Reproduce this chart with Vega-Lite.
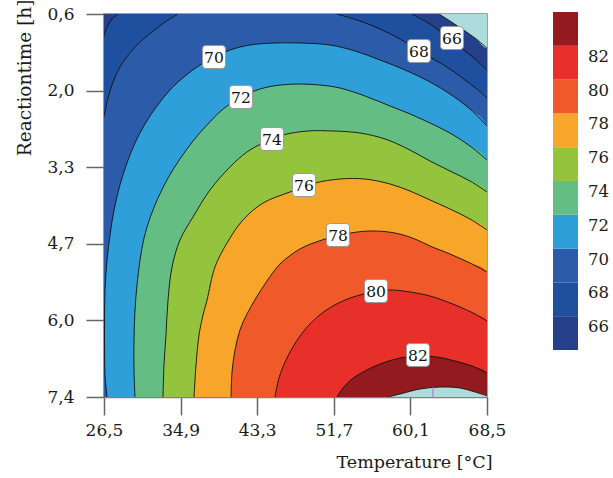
{
"$schema": "https://vega.github.io/schema/vega-lite/v6.json",
"width": 383, "height": 383,
"autosize": {"type": "none"},
"padding": {"left": 104, "top": 14, "right": 126, "bottom": 81},
"config": {"view": {"stroke": "#808080", "strokeWidth": 1.5}, "font": "DejaVu Serif"},
"datasets": {
"regions": [
{"r":65,"i":0,"T":26.5,"h":0.6},{"r":65,"i":1,"T":68.5,"h":0.6},{"r":65,"i":2,"T":68.5,"h":7.4},{"r":65,"i":3,"T":26.5,"h":7.4},
{"r":67,"i":0,"T":26.5,"h":0.991,"s":"66a"},{"r":67,"i":1,"T":26.83,"h":0.831,"s":"66a"},{"r":67,"i":2,"T":27.38,"h":0.689,"s":"66a"},{"r":67,"i":3,"T":28.04,"h":0.6,"s":"66a"},
{"r":67,"i":4,"T":60.28,"h":0.6,"s":"66b"},{"r":67,"i":5,"T":62.25,"h":0.778,"s":"66b"},{"r":67,"i":6,"T":63.89,"h":0.973,"s":"66b"},{"r":67,"i":7,"T":65.54,"h":1.186,"s":"66b"},{"r":67,"i":8,"T":67.07,"h":1.381,"s":"66b"},{"r":67,"i":9,"T":68.5,"h":1.594,"s":"66b"},
{"r":67,"i":10,"T":68.5,"h":7.4},{"r":67,"i":11,"T":26.5,"h":7.4},
{"r":69,"i":0,"T":26.5,"h":2.429,"s":"68a"},{"r":69,"i":1,"T":26.94,"h":2.091,"s":"68a"},{"r":69,"i":2,"T":27.49,"h":1.807,"s":"68a"},{"r":69,"i":3,"T":28.25,"h":1.541,"s":"68a"},{"r":69,"i":4,"T":29.24,"h":1.31,"s":"68a"},{"r":69,"i":5,"T":30.45,"h":1.097,"s":"68a"},{"r":69,"i":6,"T":31.76,"h":0.92,"s":"68a"},{"r":69,"i":7,"T":33.19,"h":0.742,"s":"68a"},{"r":69,"i":8,"T":34.61,"h":0.6,"s":"68a"},
{"r":69,"i":9,"T":52.05,"h":0.6,"s":"68b"},{"r":69,"i":10,"T":54.57,"h":0.724,"s":"68b"},{"r":69,"i":11,"T":56.77,"h":0.866,"s":"68b"},{"r":69,"i":12,"T":58.96,"h":1.044,"s":"68b"},{"r":69,"i":13,"T":60.93,"h":1.239,"s":"68b"},{"r":69,"i":14,"T":62.8,"h":1.417,"s":"68b"},{"r":69,"i":15,"T":64.44,"h":1.576,"s":"68b"},{"r":69,"i":16,"T":66.09,"h":1.772,"s":"68b"},{"r":69,"i":17,"T":67.4,"h":1.932,"s":"68b"},{"r":69,"i":18,"T":68.5,"h":2.091,"s":"68b"},
{"r":69,"i":19,"T":68.5,"h":7.4},{"r":69,"i":20,"T":26.5,"h":7.4},
{"r":71,"i":0,"T":26.83,"h":7.4,"s":"70"},{"r":71,"i":1,"T":26.61,"h":7.009,"s":"70"},{"r":71,"i":2,"T":26.56,"h":6.566,"s":"70"},{"r":71,"i":3,"T":26.56,"h":6.033,"s":"70"},{"r":71,"i":4,"T":26.61,"h":5.5,"s":"70"},{"r":71,"i":5,"T":26.83,"h":4.968,"s":"70"},{"r":71,"i":6,"T":27.16,"h":4.524,"s":"70"},{"r":71,"i":7,"T":27.6,"h":4.08,"s":"70"},{"r":71,"i":8,"T":28.25,"h":3.636,"s":"70"},{"r":71,"i":9,"T":29.02,"h":3.245,"s":"70"},{"r":71,"i":10,"T":29.9,"h":2.89,"s":"70"},{"r":71,"i":11,"T":30.99,"h":2.553,"s":"70"},{"r":71,"i":12,"T":32.31,"h":2.233,"s":"70"},{"r":71,"i":13,"T":33.74,"h":1.949,"s":"70"},{"r":71,"i":14,"T":35.38,"h":1.701,"s":"70"},{"r":71,"i":15,"T":37.03,"h":1.506,"s":"70"},{"r":71,"i":16,"T":38.56,"h":1.363,"s":"70"},{"r":71,"i":17,"T":40.32,"h":1.239,"s":"70"},{"r":71,"i":18,"T":42.51,"h":1.15,"s":"70"},{"r":71,"i":19,"T":45.25,"h":1.115,"s":"70"},{"r":71,"i":20,"T":47.99,"h":1.115,"s":"70"},{"r":71,"i":21,"T":51.28,"h":1.15,"s":"70"},{"r":71,"i":22,"T":54.02,"h":1.257,"s":"70"},{"r":71,"i":23,"T":56.77,"h":1.417,"s":"70"},{"r":71,"i":24,"T":59.51,"h":1.594,"s":"70"},{"r":71,"i":25,"T":62.25,"h":1.807,"s":"70"},{"r":71,"i":26,"T":64.44,"h":2.02,"s":"70"},{"r":71,"i":27,"T":66.64,"h":2.287,"s":"70"},{"r":71,"i":28,"T":68.5,"h":2.589,"s":"70"},{"r":71,"i":29,"T":68.5,"h":7.4},
{"r":73,"i":0,"T":29.9,"h":7.4,"s":"72"},{"r":73,"i":1,"T":29.79,"h":6.921,"s":"72"},{"r":73,"i":2,"T":29.79,"h":6.388,"s":"72"},{"r":73,"i":3,"T":29.9,"h":5.855,"s":"72"},{"r":73,"i":4,"T":30.12,"h":5.412,"s":"72"},{"r":73,"i":5,"T":30.45,"h":4.968,"s":"72"},{"r":73,"i":6,"T":30.89,"h":4.577,"s":"72"},{"r":73,"i":7,"T":31.54,"h":4.222,"s":"72"},{"r":73,"i":8,"T":32.42,"h":3.867,"s":"72"},{"r":73,"i":9,"T":33.52,"h":3.512,"s":"72"},{"r":73,"i":10,"T":34.83,"h":3.174,"s":"72"},{"r":73,"i":11,"T":36.26,"h":2.855,"s":"72"},{"r":73,"i":12,"T":37.8,"h":2.571,"s":"72"},{"r":73,"i":13,"T":39.44,"h":2.304,"s":"72"},{"r":73,"i":14,"T":41.52,"h":2.074,"s":"72"},{"r":73,"i":15,"T":43.61,"h":1.932,"s":"72"},{"r":73,"i":16,"T":45.8,"h":1.861,"s":"72"},{"r":73,"i":17,"T":47.99,"h":1.843,"s":"72"},{"r":73,"i":18,"T":50.19,"h":1.861,"s":"72"},{"r":73,"i":19,"T":52.38,"h":1.914,"s":"72"},{"r":73,"i":20,"T":55.12,"h":2.056,"s":"72"},{"r":73,"i":21,"T":57.86,"h":2.233,"s":"72"},{"r":73,"i":22,"T":60.06,"h":2.375,"s":"72"},{"r":73,"i":23,"T":62.25,"h":2.535,"s":"72"},{"r":73,"i":24,"T":64.44,"h":2.713,"s":"72"},{"r":73,"i":25,"T":66.64,"h":2.944,"s":"72"},{"r":73,"i":26,"T":68.5,"h":3.192,"s":"72"},{"r":73,"i":27,"T":68.5,"h":7.4},
{"r":75,"i":0,"T":32.97,"h":7.4,"s":"74"},{"r":75,"i":1,"T":33.08,"h":6.832,"s":"74"},{"r":75,"i":2,"T":33.3,"h":6.299,"s":"74"},{"r":75,"i":3,"T":33.52,"h":5.678,"s":"74"},{"r":75,"i":4,"T":33.96,"h":5.092,"s":"74"},{"r":75,"i":5,"T":34.83,"h":4.613,"s":"74"},{"r":75,"i":6,"T":36.26,"h":4.204,"s":"74"},{"r":75,"i":7,"T":38.12,"h":3.725,"s":"74"},{"r":75,"i":8,"T":40.32,"h":3.316,"s":"74"},{"r":75,"i":9,"T":42.18,"h":3.05,"s":"74"},{"r":75,"i":10,"T":43.94,"h":2.89,"s":"74"},{"r":75,"i":11,"T":46.13,"h":2.748,"s":"74"},{"r":75,"i":12,"T":48.87,"h":2.677,"s":"74"},{"r":75,"i":13,"T":51.61,"h":2.677,"s":"74"},{"r":75,"i":14,"T":54.57,"h":2.713,"s":"74"},{"r":75,"i":15,"T":57.31,"h":2.819,"s":"74"},{"r":75,"i":16,"T":59.84,"h":2.997,"s":"74"},{"r":75,"i":17,"T":62.25,"h":3.21,"s":"74"},{"r":75,"i":18,"T":64.44,"h":3.387,"s":"74"},{"r":75,"i":19,"T":66.64,"h":3.565,"s":"74"},{"r":75,"i":20,"T":68.5,"h":3.76,"s":"74"},{"r":75,"i":21,"T":68.5,"h":7.4},
{"r":77,"i":0,"T":36.37,"h":7.4,"s":"76"},{"r":77,"i":1,"T":36.59,"h":6.832,"s":"76"},{"r":77,"i":2,"T":36.92,"h":6.299,"s":"76"},{"r":77,"i":3,"T":37.36,"h":5.944,"s":"76"},{"r":77,"i":4,"T":37.8,"h":5.678,"s":"76"},{"r":77,"i":5,"T":38.67,"h":5.092,"s":"76"},{"r":77,"i":6,"T":39.99,"h":4.666,"s":"76"},{"r":77,"i":7,"T":41.74,"h":4.257,"s":"76"},{"r":77,"i":8,"T":43.94,"h":3.956,"s":"76"},{"r":77,"i":9,"T":46.9,"h":3.76,"s":"76"},{"r":77,"i":10,"T":49.64,"h":3.601,"s":"76"},{"r":77,"i":11,"T":52.38,"h":3.53,"s":"76"},{"r":77,"i":12,"T":55.12,"h":3.53,"s":"76"},{"r":77,"i":13,"T":57.86,"h":3.618,"s":"76"},{"r":77,"i":14,"T":60.06,"h":3.743,"s":"76"},{"r":77,"i":15,"T":62.25,"h":3.902,"s":"76"},{"r":77,"i":16,"T":64.44,"h":4.062,"s":"76"},{"r":77,"i":17,"T":66.64,"h":4.24,"s":"76"},{"r":77,"i":18,"T":68.5,"h":4.435,"s":"76"},{"r":77,"i":19,"T":68.5,"h":7.4},
{"r":79,"i":0,"T":40.43,"h":7.4,"s":"78"},{"r":79,"i":1,"T":40.54,"h":6.956,"s":"78"},{"r":79,"i":2,"T":40.87,"h":6.566,"s":"78"},{"r":79,"i":3,"T":41.41,"h":6.21,"s":"78"},{"r":79,"i":4,"T":42.18,"h":5.926,"s":"78"},{"r":79,"i":5,"T":43.17,"h":5.642,"s":"78"},{"r":79,"i":6,"T":44.37,"h":5.341,"s":"78"},{"r":79,"i":7,"T":45.8,"h":5.039,"s":"78"},{"r":79,"i":8,"T":47.99,"h":4.772,"s":"78"},{"r":79,"i":9,"T":50.41,"h":4.613,"s":"78"},{"r":79,"i":10,"T":52.93,"h":4.506,"s":"78"},{"r":79,"i":11,"T":55.67,"h":4.453,"s":"78"},{"r":79,"i":12,"T":58.41,"h":4.488,"s":"78"},{"r":79,"i":13,"T":60.6,"h":4.595,"s":"78"},{"r":79,"i":14,"T":62.25,"h":4.719,"s":"78"},{"r":79,"i":15,"T":64.44,"h":4.861,"s":"78"},{"r":79,"i":16,"T":66.64,"h":5.021,"s":"78"},{"r":79,"i":17,"T":68.5,"h":5.181,"s":"78"},{"r":79,"i":18,"T":68.5,"h":7.4},
{"r":81,"i":0,"T":45.25,"h":7.4,"s":"80"},{"r":81,"i":1,"T":45.69,"h":7.063,"s":"80"},{"r":81,"i":2,"T":46.46,"h":6.743,"s":"80"},{"r":81,"i":3,"T":47.55,"h":6.423,"s":"80"},{"r":81,"i":4,"T":48.98,"h":6.122,"s":"80"},{"r":81,"i":5,"T":50.74,"h":5.873,"s":"80"},{"r":81,"i":6,"T":52.93,"h":5.678,"s":"80"},{"r":81,"i":7,"T":55.45,"h":5.554,"s":"80"},{"r":81,"i":8,"T":57.86,"h":5.5,"s":"80"},{"r":81,"i":9,"T":60.06,"h":5.536,"s":"80"},{"r":81,"i":10,"T":62.25,"h":5.607,"s":"80"},{"r":81,"i":11,"T":63.89,"h":5.696,"s":"80"},{"r":81,"i":12,"T":65.54,"h":5.802,"s":"80"},{"r":81,"i":13,"T":67.18,"h":5.926,"s":"80"},{"r":81,"i":14,"T":68.5,"h":6.051,"s":"80"},{"r":81,"i":15,"T":68.5,"h":7.4},
{"r":83,"i":0,"T":52.05,"h":7.4,"s":"82"},{"r":83,"i":1,"T":52.71,"h":7.24,"s":"82"},{"r":83,"i":2,"T":53.7,"h":7.08,"s":"82"},{"r":83,"i":3,"T":55.12,"h":6.938,"s":"82"},{"r":83,"i":4,"T":56.77,"h":6.814,"s":"82"},{"r":83,"i":5,"T":58.96,"h":6.708,"s":"82"},{"r":83,"i":6,"T":60.93,"h":6.672,"s":"82"},{"r":83,"i":7,"T":63.02,"h":6.69,"s":"82"},{"r":83,"i":8,"T":64.99,"h":6.761,"s":"82"},{"r":83,"i":9,"T":66.86,"h":6.85,"s":"82"},{"r":83,"i":10,"T":68.5,"h":6.974,"s":"82"},{"r":83,"i":11,"T":68.5,"h":7.4},
{"r":85,"i":0,"T":57.64,"h":7.4,"s":"84"},{"r":85,"i":1,"T":58.96,"h":7.347,"s":"84"},{"r":85,"i":2,"T":61.15,"h":7.258,"s":"84"},{"r":85,"i":3,"T":63.35,"h":7.223,"s":"84"},{"r":85,"i":4,"T":65.54,"h":7.24,"s":"84"},{"r":85,"i":5,"T":67.18,"h":7.311,"s":"84"},{"r":85,"i":6,"T":68.5,"h":7.382,"s":"84"},{"r":85,"i":7,"T":68.5,"h":7.4},
{"r":63,"i":0,"T":63.24,"h":0.6,"s":"64"},{"r":63,"i":1,"T":64.44,"h":0.724,"s":"64"},{"r":63,"i":2,"T":65.76,"h":0.866,"s":"64"},{"r":63,"i":3,"T":67.18,"h":1.026,"s":"64"},{"r":63,"i":4,"T":68.5,"h":1.204,"s":"64"},{"r":63,"i":5,"T":68.5,"h":0.6}
],
"labels": [
{"T":38.56,"h":1.363,"t":"70"},{"T":41.52,"h":2.074,"t":"72"},{"T":44.92,"h":2.819,"t":"74"},{"T":48.43,"h":3.636,"t":"76"},{"T":52.16,"h":4.524,"t":"78"},{"T":56.33,"h":5.518,"t":"80"},{"T":60.93,"h":6.654,"t":"82"},{"T":61.04,"h":1.257,"t":"68"},{"T":64.66,"h":1.026,"t":"66"}
],
"marker": [{"T":62.58,"h":7.223,"h2":7.4}]
},
"encoding": {
"x": {"field":"T","type":"quantitative","scale":{"domain":[26.5,68.5],"nice":false,"zero":false},
"axis":{"values":[26.5,34.9,43.3,51.7,60.1,68.5],"labelExpr":"replace(format(datum.value,'.1f'),'.',',')","title":"Temperature [°C]","grid":false,"tickSize":18,"tickWidth":1.5,"tickColor":"#666666","domainColor":"#808080","domainWidth":1.5,"labelFont":"DejaVu Serif","labelFontSize":17,"labelColor":"#1a1a1a","labelPadding":7,"labelFlush":false,"labelOverlap":false,"titleFont":"DejaVu Serif","titleFontSize":17.5,"titleFontWeight":"normal","titleColor":"#1a1a1a","titleAlign":"right","titleAnchor":"end","titleX":388,"titleY":70,"titleBaseline":"alphabetic"}},
"y": {"field":"h","type":"quantitative","scale":{"domain":[0.6,7.4],"nice":false,"zero":false,"reverse":true},
"axis":{"values":[0.6,1.96,3.32,4.68,6.04,7.4],"labelExpr":"replace(format(datum.value,'.1f'),'.',',')","title":"Reactiontime [h]","grid":false,"tickSize":18,"tickWidth":1.5,"tickColor":"#666666","domainColor":"#808080","domainWidth":1.5,"labelFont":"DejaVu Serif","labelFontSize":17,"labelColor":"#1a1a1a","labelPadding":12,"labelFlush":false,"labelOverlap":false,"titleFont":"DejaVu Serif","titleFontSize":18.5,"titleFontWeight":"normal","titleColor":"#1a1a1a","titleAngle":-90,"titleAlign":"right","titleX":-74,"titleY":-15,"titleBaseline":"alphabetic"}}
},
"layer": [
{"data":{"name":"regions"},"transform":[{"filter":"datum.r >= 65 && datum.r <= 83"}],
"mark":{"type":"line","filled":true,"clip":true,"interpolate":"catmull-rom"},
"encoding":{"order":{"field":"i","type":"quantitative"},
"color":{"field":"r","type":"quantitative","scale":{"type":"threshold","domain":[66,68,70,72,74,76,78,80,82],"range":["#263f8a","#1f50a0","#2c5ca9","#2f9fd9","#64be84","#94c33e","#f8a62a","#f05a2a","#e8302a","#931b1f"]},
"legend":{"orient":"none","legendX":449,"legendY":-2,"title":null,"type":"gradient","direction":"vertical","gradientLength":338,"gradientThickness":25,"labelFont":"DejaVu Serif","labelFontSize":16.5,"labelColor":"#1a1a1a","labelOffset":10,"padding":0,"labelOverlap":false,"encode":{"symbols":{"update":{"stroke":{"value":"#111111"},"strokeWidth":{"value":1}}},"labels":{"update":{"dy":{"value":11}}}}}}}},
{"data":{"name":"regions"},"transform":[{"filter":"datum.r == 63 || datum.r == 85"}],
"mark":{"type":"line","filled":true,"fill":"#acdcdc","clip":true,"interpolate":"catmull-rom"},
"encoding":{"order":{"field":"i","type":"quantitative"},"detail":{"field":"r","type":"nominal"}}},
{"data":{"name":"regions"},"transform":[{"filter":"isValid(datum.s)"}],
"mark":{"type":"line","stroke":"#111111","strokeWidth":0.9,"clip":true,"interpolate":"catmull-rom"},
"encoding":{"order":{"field":"i","type":"quantitative"},"detail":{"field":"s","type":"nominal"}}},
{"data":{"name":"marker"},"mark":{"type":"rule","color":"#b070c0","strokeWidth":1},
"encoding":{"y2":{"field":"h2"}}},
{"data":{"name":"labels"},"mark":{"type":"point","shape":"M -0.7 -1 L 0.7 -1 Q 1 -1 1 -0.7 L 1 0.7 Q 1 1 0.7 1 L -0.7 1 Q -1 1 -1 0.7 L -1 -0.7 Q -1 -1 -0.7 -1 Z","size":529,"filled":true,"fill":"#ffffff","stroke":"#9a9a9a","strokeWidth":1,"opacity":1},
"encoding":{}},
{"data":{"name":"labels"},"mark":{"type":"text","font":"DejaVu Serif","fontSize":15.5,"color":"#111111","baseline":"middle","align":"center","dy":1},
"encoding":{"text":{"field":"t"}}}
]
}
